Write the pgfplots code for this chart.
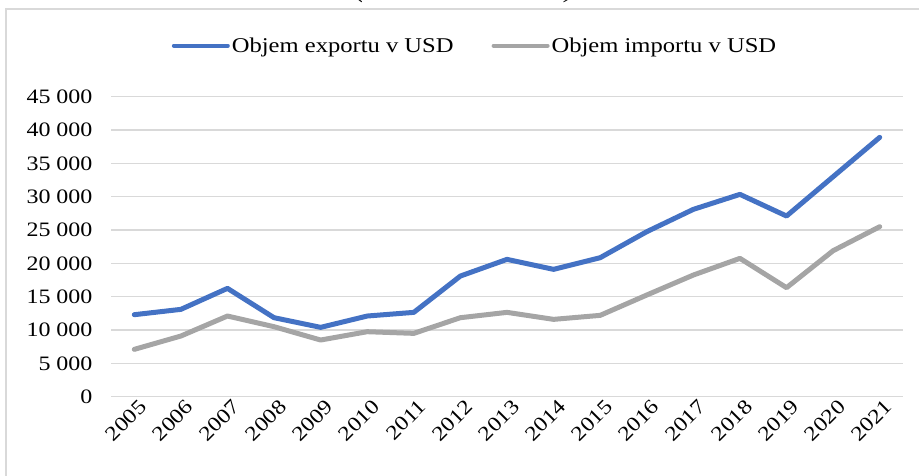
\documentclass[border=0pt]{standalone}
\usepackage{fontspec}
\setmainfont[FakeStretch=1.17]{Liberation Serif}
\usepackage{pgfplots}
\pgfplotsset{compat=1.18}
\definecolor{ExBlue}{HTML}{4472C4}
\definecolor{ImGray}{HTML}{A5A5A5}
\definecolor{GridGray}{HTML}{D9D9D9}
\newcommand{\chartfont}{\fontsize{20.5}{23}\selectfont}
\newcommand{\legfont}{\fontsize{21}{24}\selectfont}

% export / import
\pgfplotstableread{
x exp imp
0  12300  7100
1  13100  9100
2  16250 12100
3  11850 10500
4  10400  8500
5  12100  9750
6  12650  9500
7  18100 11850
8  20600 12650
9  19100 11600
10 20850 12200
11 24750 15250
12 28100 18250
13 30350 20750
14 27100 16350
15 33000 21900
16 38900 25500
}\trade

\begin{document}
\begin{tikzpicture}
\useasboundingbox (0,0) rectangle (919pt,476pt);
\draw[GridGray, line width=1.3pt] (6pt,-20pt) -- (6pt,467pt) -- (940pt,467pt) -- (940pt,-20pt);
\node[anchor=base, font=\fontsize{25}{28}\selectfont\itshape] at (465pt,478.5pt) {(v milionech USD)};
\begin{axis}[
    at={(111pt,79.3pt)},
    anchor=south west,
    scale only axis,
    width=792pt,
    height=300pt,
    xmin=-0.5, xmax=16.5,
    ymin=0, ymax=45000,
    scaled y ticks=false,
    xtick=data,
    xticklabels={2005,2006,2007,2008,2009,2010,2011,2012,2013,2014,2015,2016,2017,2018,2019,2020,2021},
    ytick={0,5000,10000,15000,20000,25000,30000,35000,40000,45000},
    yticklabels={0,5 000,10 000,15 000,20 000,25 000,30 000,35 000,40 000,45 000},
    every tick label/.append style={font=\chartfont},
    xticklabel style={rotate=45, anchor=east, xshift=5pt, yshift=-11pt},
    yticklabel style={xshift=-15pt},
    major tick length=0pt,
    axis line style={draw=none},
    ymajorgrids=true,
    grid style={GridGray, line width=1.3pt},
    legend columns=2,
    legend style={draw=none, fill=none, font=\legfont,
        at={(0.4596,1.17)}, anchor=center,
        /tikz/every even column/.append style={column sep=36pt}},
    legend cell align=left,
    legend image code/.code={\draw[#1, line width=4pt, line cap=round] (0pt,0pt) -- (54pt,0pt);},
]
\addplot[ExBlue, line width=5pt, line cap=round, line join=round] table[x=x, y=exp] {\trade};
\addlegendentry{Objem exportu v USD}
\addplot[ImGray, line width=5pt, line cap=round, line join=round] table[x=x, y=imp] {\trade};
\addlegendentry{Objem importu v USD}
\end{axis}
\end{tikzpicture}
\end{document}
